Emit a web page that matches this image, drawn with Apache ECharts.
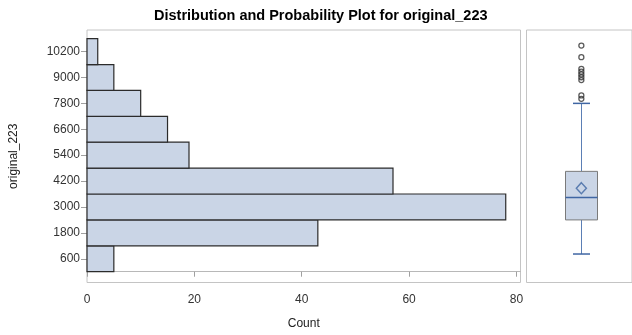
<!DOCTYPE html>
<html>
<head>
<meta charset="utf-8">
<script src="https://cdn.jsdelivr.net/npm/echarts@6/dist/echarts.min.js"></script>
<style>
  html, body { margin: 0; padding: 0; background: #fff; }
  #chart { width: 632px; height: 335px; }
</style>
</head>
<body>
<div id="chart"></div>
<script>
// Histogram bins (midpoints) and their counts
const binCenters = [600, 1800, 3000, 4200, 5400, 6600, 7800, 9000, 10200];
const binCounts = [5, 43, 78, 57, 19, 15, 10, 5, 2];
const binWidth = 1200;

// Axis tick labels
const countTicks = [0, 20, 40, 60, 80];
const valueTicks = [600, 1800, 3000, 4200, 5400, 6600, 7800, 9000, 10200];

// Box plot summary: lower whisker, Q1, median, Q3, upper whisker
const boxStats = [820, 2400, 3440, 4650, 7800];
const meanValue = 3870;
const outlierValues = [8010, 8170, 8880, 9010, 9140, 9270, 9400, 9940, 10480];

const FONT = '"Liberation Sans", Arial, sans-serif';
const FILL = '#cad5e6';
const BLUE = '#3f66a3';
const Y_MIN = -500, Y_MAX = 11200;

const chart = echarts.init(document.getElementById('chart'), null, { renderer: 'canvas' });

const histData = binCenters.map((c, i) => [c, binCounts[i]]);
const boxX = 0.52;
const plain = v => String(v);

chart.setOption({
  animation: false,
  backgroundColor: '#fff',
  title: {
    text: 'Distribution and Probability Plot for original_223',
    left: 149,
    top: 3,
    textStyle: { fontFamily: FONT, fontSize: 14.5, fontWeight: 'bold', color: '#000' }
  },
  grid: [
    { left: 86.5, right: 111.5, top: 30, bottom: 52.5, show: true, borderColor: '#c4c4c4', borderWidth: 1, backgroundColor: 'transparent' },
    { left: 526.5, right: -3, top: 30, bottom: 52.5, show: true, borderColor: '#c4c4c4', borderWidth: 1, backgroundColor: 'transparent' }
  ],
  xAxis: [
    {
      gridIndex: 0, type: 'value', min: 0, max: 80.75,
      name: 'Count', nameLocation: 'middle', nameGap: 35,
      nameTextStyle: { fontFamily: FONT, fontSize: 12, color: '#222' },
      axisLine: { show: true, lineStyle: { color: '#b8b8b8' } },
      axisTick: { show: true, length: 5, lineStyle: { color: '#a0a0a0' }, customValues: countTicks },
      axisLabel: { fontFamily: FONT, fontSize: 12, color: '#333', margin: 11, formatter: plain, customValues: countTicks },
      splitLine: { show: false }
    },
    {
      gridIndex: 1, type: 'value', min: 0, max: 1, show: false
    }
  ],
  yAxis: [
    {
      gridIndex: 0, type: 'value', min: Y_MIN, max: Y_MAX, offset: 2,
      name: 'original_223', nameLocation: 'middle', nameRotate: 90, nameGap: 65,
      nameTextStyle: { fontFamily: FONT, fontSize: 12, color: '#222' },
      axisLine: { show: false },
      axisTick: { show: true, length: 6, lineStyle: { color: '#a0a0a0' }, customValues: valueTicks },
      axisLabel: { fontFamily: FONT, fontSize: 12, color: '#333', margin: 5, formatter: plain, customValues: valueTicks },
      splitLine: { show: false }
    },
    {
      gridIndex: 1, type: 'value', min: Y_MIN, max: Y_MAX, show: false
    }
  ],
  series: [
    {
      // horizontal histogram bars
      type: 'custom',
      xAxisIndex: 0, yAxisIndex: 0,
      data: histData,
      renderItem: function (params, api) {
        const c = api.value(0), n = api.value(1);
        const p0 = api.coord([0, c + binWidth / 2]);
        const p1 = api.coord([n, c - binWidth / 2]);
        return {
          type: 'rect',
          shape: { x: p0[0], y: p0[1], width: p1[0] - p0[0], height: p1[1] - p0[1] },
          style: { fill: FILL, stroke: '#2b2b2b', lineWidth: 1.2 }
        };
      }
    },
    {
      // box with whiskers
      type: 'custom',
      xAxisIndex: 1, yAxisIndex: 1,
      data: [[boxX].concat(boxStats)],
      renderItem: function (params, api) {
        const x = api.value(0);
        const lo = api.coord([x, api.value(1)]);
        const q1 = api.coord([x, api.value(2)]);
        const med = api.coord([x, api.value(3)]);
        const q3 = api.coord([x, api.value(4)]);
        const hi = api.coord([x, api.value(5)]);
        const cx = Math.round(lo[0]) + 0.5;
        const halfBox = 16, halfCap = 8.5;
        const lineStyle = { stroke: '#5b7fb5', lineWidth: 1 };
        return {
          type: 'group',
          children: [
            { type: 'line', shape: { x1: cx, y1: hi[1], x2: cx, y2: q3[1] }, style: lineStyle },
            { type: 'line', shape: { x1: cx, y1: q1[1], x2: cx, y2: lo[1] }, style: lineStyle },
            { type: 'line', shape: { x1: cx - halfCap, y1: hi[1], x2: cx + halfCap, y2: hi[1] }, style: { stroke: BLUE, lineWidth: 1.5 } },
            { type: 'line', shape: { x1: cx - halfCap, y1: lo[1], x2: cx + halfCap, y2: lo[1] }, style: { stroke: BLUE, lineWidth: 1.5 } },
            { type: 'rect', shape: { x: cx - halfBox, y: q3[1], width: 2 * halfBox, height: q1[1] - q3[1] }, style: { fill: FILL, stroke: '#7a7a7a', lineWidth: 1 } },
            { type: 'line', shape: { x1: cx - halfBox, y1: med[1], x2: cx + halfBox, y2: med[1] }, style: { stroke: BLUE, lineWidth: 1.5 } }
          ]
        };
      }
    },
    {
      // mean marker
      type: 'scatter',
      xAxisIndex: 1, yAxisIndex: 1,
      data: [[boxX, meanValue]],
      symbol: 'diamond', symbolSize: [10, 11],
      itemStyle: { color: 'transparent', borderColor: BLUE, borderWidth: 1.5 },
      z: 5
    },
    {
      // outliers
      type: 'scatter',
      xAxisIndex: 1, yAxisIndex: 1,
      data: outlierValues.map(v => [boxX, v]),
      symbol: 'circle', symbolSize: 5,
      itemStyle: { color: 'transparent', borderColor: '#333', borderWidth: 1.3 },
      z: 5
    }
  ]
});
</script>
</body>
</html>
